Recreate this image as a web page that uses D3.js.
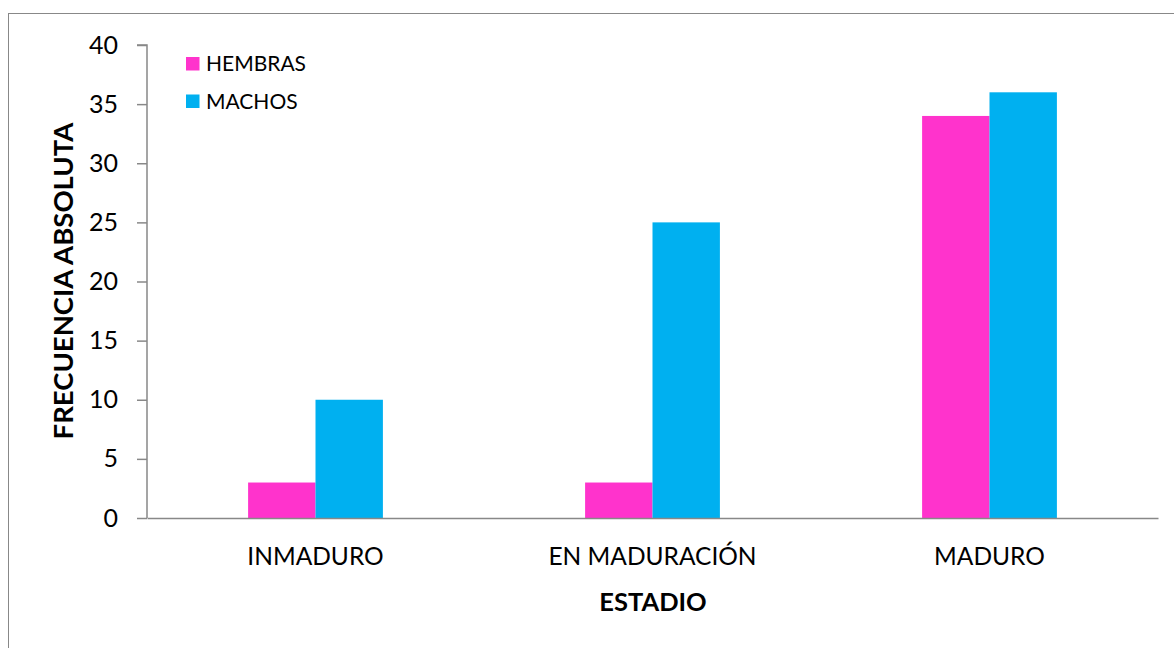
<!DOCTYPE html>
<html><head><meta charset="utf-8">
<script src="https://cdn.jsdelivr.net/npm/d3@7"></script>
<style>body{margin:0;background:#fff}svg{display:block;font-family:Lato,"Open Sans",sans-serif}</style>
</head><body><svg id="c" width="1174" height="648"></svg>
<script>
const categories = ["INMADURO", "EN MADURACIÓN", "MADURO"];
const seriesNames = ["HEMBRAS", "MACHOS"];
const hembras = [3, 3, 34];
const machos = [10, 25, 36];
const yTicks = [0, 5, 10, 15, 20, 25, 30, 35, 40];
const colors = ["#FF33CC", "#00B0F0"];

(function () {
const svg = d3.select("#c");
// outer frame
svg.append("rect").attr("x", 8.5).attr("y", 13.5).attr("width", 1200).attr("height", 700)
  .attr("fill", "none").attr("stroke", "#888").attr("stroke-width", 1);

const pL = 147, pR = 1158, pT = 45, pB = 518;
const x = d3.scaleBand().domain(categories).range([pL, pR]).paddingInner(0).paddingOuter(0);
const y = d3.scaleLinear().domain([0, 40]).range([pB, pT]);
const barW = x.bandwidth() * 0.2;
const xs = d3.scaleBand().domain(seriesNames).range([0, barW * 2]);

const data = [hembras, machos];
seriesNames.forEach((s, si) => {
  svg.append("g").selectAll("rect").data(categories).join("rect")
    .attr("x", c => x(c) + x.bandwidth() / 2 - barW + xs(s))
    .attr("width", xs.bandwidth())
    .attr("y", (c, i) => y(data[si][i]))
    .attr("height", (c, i) => y(0) - y(data[si][i]))
    .attr("fill", colors[si]);
});

// y axis
const ya = svg.append("g").attr("transform", `translate(${pL},0)`)
  .call(d3.axisLeft(y).tickValues(yTicks).tickSize(10).tickPadding(19));
ya.select(".domain").attr("stroke", "#888").attr("stroke-width", 1.5).attr("d", `M-10,${pT}H0V${pB}`);
ya.selectAll(".tick line").attr("stroke", "#888").attr("stroke-width", 1.5);
ya.selectAll(".tick text").attr("font-size", 25).attr("fill", "#000").attr("font-family", "Lato,sans-serif");

// x axis
const xa = svg.append("g").attr("transform", `translate(0,${pB})`)
  .call(d3.axisBottom(x).tickSize(0).tickPadding(30));
xa.select(".domain").attr("stroke", "#888").attr("stroke-width", 1.5);
xa.selectAll(".tick text").attr("font-size", 24.5).attr("fill", "#000").attr("font-family", "Lato,sans-serif");

// axis titles
svg.append("text").attr("x", 653).attr("y", 611).attr("text-anchor", "middle")
  .attr("font-size", 25.5).attr("font-weight", "bold").text("ESTADIO");
svg.append("text").attr("transform", "translate(73,281) rotate(-90)").attr("text-anchor", "middle")
  .attr("font-size", 27.5).attr("font-weight", "bold").text("FRECUENCIA ABSOLUTA");

// legend
const lg = svg.append("g");
seriesNames.forEach((s, i) => {
  lg.append("rect").attr("x", 186).attr("y", 57 + i * 37.5).attr("width", 13.5).attr("height", 13.5).attr("fill", colors[i]);
  lg.append("text").attr("x", 206).attr("y", 71 + i * 37.5).attr("font-size", 21).text(s);
});
})();
</script></body></html>
